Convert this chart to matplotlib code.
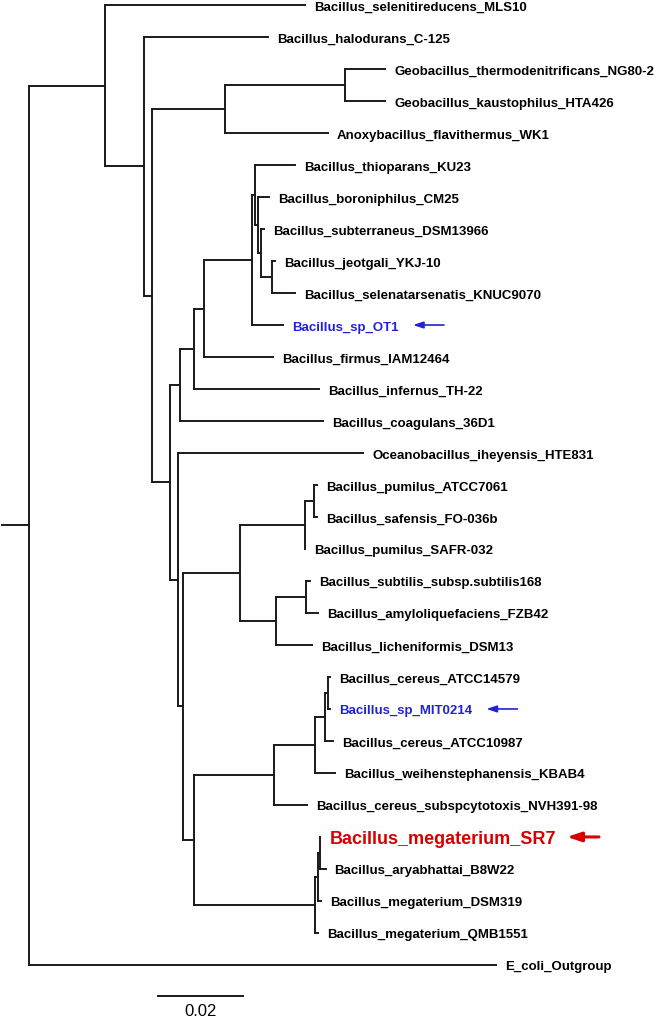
import matplotlib
matplotlib.use("Agg")
import matplotlib.pyplot as plt

plt.rcParams["font.family"] = ["Liberation Sans", "DejaVu Sans"]

# tree as (parent, child, branch length); children listed top to bottom
edges = [
    ("root", "A", 0.0179),
    ("root", "E_coli_Outgroup", 0.1100),
    ("A", "Bacillus_selenitireducens_MLS10", 0.0471),
    ("A", "B", 0.0092),
    ("B", "Bacillus_halodurans_C-125", 0.0292),
    ("B", "C", 0.0019),
    ("C", "D", 0.0172),
    ("C", "E", 0.0042),
    ("D", "Geo", 0.0282),
    ("D", "Anoxybacillus_flavithermus_WK1", 0.0242),
    ("Geo", "Geobacillus_thermodenitrificans_NG80-2", 0.0094),
    ("Geo", "Geobacillus_kaustophilus_HTA426", 0.0094),
    ("E", "F", 0.0024),
    ("E", "G", 0.0019),
    ("F", "H", 0.0033),
    ("F", "Bacillus_coagulans_36D1", 0.0336),
    ("H", "I", 0.0024),
    ("H", "Bacillus_infernus_TH-22", 0.0294),
    ("I", "J", 0.0113),
    ("I", "Bacillus_firmus_IAM12464", 0.0162),
    ("J", "K", 0.0005),
    ("J", "Bacillus_sp_OT1", 0.0073),
    ("K", "Bacillus_thioparans_KU23", 0.0096),
    ("K", "L", 0.0007),
    ("L", "Bacillus_boroniphilus_CM25", 0.0026),
    ("L", "L2", 0.0009),
    ("L2", "Bacillus_subterraneus_DSM13966", 0.0007),
    ("L2", "L3", 0.0024),
    ("L3", "Bacillus_jeotgali_YKJ-10", 0.0009),
    ("L3", "Bacillus_selenatarsenatis_KNUC9070", 0.0056),
    ("G", "Oceanobacillus_iheyensis_HTE831", 0.0435),
    ("G", "M", 0.0012),
    ("M", "N", 0.0134),
    ("M", "S", 0.0026),
    ("N", "O", 0.0153),
    ("N", "Q", 0.0085),
    ("O", "P", 0.0021),
    ("O", "Bacillus_pumilus_SAFR-032", 0.0),
    ("P", "Bacillus_pumilus_ATCC7061", 0.0007),
    ("P", "Bacillus_safensis_FO-036b", 0.0007),
    ("Q", "R", 0.0071),
    ("Q", "Bacillus_licheniformis_DSM13", 0.0085),
    ("R", "Bacillus_subtilis_subsp.subtilis168", 0.0009),
    ("R", "Bacillus_amyloliquefaciens_FZB42", 0.0028),
    ("S", "T", 0.0188),
    ("S", "X", 0.0285),
    ("T", "U", 0.0096),
    ("T", "Bacillus_cereus_subspcytotoxis_NVH391-98", 0.0078),
    ("U", "V", 0.0024),
    ("U", "Bacillus_weihenstephanensis_KBAB4", 0.0047),
    ("V", "W", 0.0007),
    ("V", "Bacillus_cereus_ATCC10987", 0.0019),
    ("W", "Bacillus_cereus_ATCC14579", 0.0005),
    ("W", "Bacillus_sp_MIT0214", 0.0005),
    ("X", "Y", 0.0007),
    ("X", "Bacillus_megaterium_QMB1551", 0.0007),
    ("Y", "Z", 0.0005),
    ("Y", "Bacillus_megaterium_DSM319", 0.0007),
    ("Z", "Bacillus_megaterium_SR7", 0.0),
    ("Z", "Bacillus_aryabhattai_B8W22", 0.0012),
]

blue_taxa = ["Bacillus_sp_OT1", "Bacillus_sp_MIT0214"]
red_taxa = ["Bacillus_megaterium_SR7"]
root_stem = 0.0064
scale_len = 0.02

BLUE = "#2222d6"
RED = "#d60000"
LINE = "#1a1a1a"

children = {}
blen = {}
for p, c, l in edges:
    children.setdefault(p, []).append(c)
    blen[c] = l

xpos = {"root": 0.0}
ypos = {}
leaves = []


def layout(node):
    kids = children.get(node, [])
    for k in kids:
        xpos[k] = xpos[node] + blen[k]
        layout(k)
    if kids:
        ypos[node] = (ypos[kids[0]] + ypos[kids[-1]]) / 2
    else:
        ypos[node] = len(leaves)
        leaves.append(node)


layout("root")

fig = plt.figure(figsize=(6.69, 10.2), dpi=100)
ax = fig.add_axes([0, 0, 1, 1])
ax.set_xlim(-0.0068, 0.1506)
ax.set_ylim(31.69, -0.19)
ax.axis("off")

line_kw = dict(color=LINE, lw=1.4, solid_capstyle="projecting")

for p, c, l in edges:
    ax.plot([xpos[p], xpos[c]], [ypos[c], ypos[c]], **line_kw)
for node, kids in children.items():
    ys = [ypos[k] for k in kids]
    ax.plot([xpos[node], xpos[node]], [min(ys), max(ys)], **line_kw)
ax.plot([-root_stem, 0], [ypos["root"], ypos["root"]], **line_kw)

labels = {}
for leaf in leaves:
    color, size = "black", 9.5
    if leaf in blue_taxa:
        color = BLUE
    if leaf in red_taxa:
        color, size = RED, 13
    labels[leaf] = ax.annotate(leaf, (xpos[leaf], ypos[leaf]), xytext=(6.5, 0),
                               textcoords="offset points", ha="left",
                               va="center_baseline", fontsize=size,
                               fontweight="bold", color=color)

# arrows pointing at the highlighted strains
fig.canvas.draw()
renderer = fig.canvas.get_renderer()
inv = ax.transData.inverted()
for leaf in blue_taxa + red_taxa:
    bb = labels[leaf].get_window_extent(renderer)
    is_red = leaf in red_taxa
    gap, length = (11, 32) if is_red else (14, 31)
    tip = inv.transform((bb.x1 + gap, 0))[0]
    tail = inv.transform((bb.x1 + gap + length, 0))[0]
    y = ypos[leaf]
    ax.annotate("", xy=(tip, y), xytext=(tail, y),
                arrowprops=dict(arrowstyle="-|>,head_length=0.6,head_width=0.2",
                                color=RED if is_red else BLUE,
                                lw=2.2 if is_red else 1.2,
                                mutation_scale=14 if is_red else 10,
                                shrinkA=0, shrinkB=0))

# scale bar
sb_x = 0.0304
sb_y = 30.97
ax.plot([sb_x, sb_x + scale_len], [sb_y, sb_y], color=LINE, lw=1.4)
ax.text(sb_x + scale_len / 2, 31.42, f"{scale_len:.2f}", ha="center", va="center",
        fontsize=12)

fig.savefig("out.png", dpi=100)
